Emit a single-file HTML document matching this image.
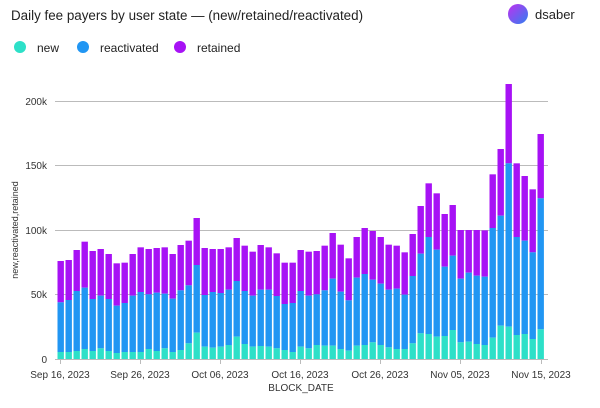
<!DOCTYPE html>
<html><head><meta charset="utf-8"><style>
body{margin:0;background:#fff;width:600px;height:403px;overflow:hidden;font-family:"Liberation Sans",sans-serif}
</style></head><body>
<svg id="s" width="600" height="403" xmlns="http://www.w3.org/2000/svg" font-family="Liberation Sans, sans-serif">
<text x="11" y="20" font-size="13.4" fill="#222">Daily fee payers by user state — (new/retained/reactivated)</text>
<defs><linearGradient id="g" x1="0" y1="0" x2="1" y2="1"><stop offset="0" stop-color="#c030f0"/><stop offset="1" stop-color="#3080f0"/></linearGradient></defs>
<circle cx="518" cy="14" r="10" fill="url(#g)"/>
<text x="535" y="19" font-size="13" fill="#222">dsaber</text>
<circle cx="20" cy="47" r="6" fill="#2de0c8"/><text x="37" y="52" font-size="12" fill="#222">new</text>
<circle cx="83" cy="47" r="6" fill="#2196f3"/><text x="100" y="52" font-size="12" fill="#222">reactivated</text>
<circle cx="180" cy="47" r="6" fill="#a712f5"/><text x="197" y="52" font-size="12" fill="#222">retained</text>
<g stroke="#bbb" stroke-width="1">
<line x1="55" x2="548" y1="294.5" y2="294.5"/><line x1="55" x2="548" y1="230.5" y2="230.5"/><line x1="55" x2="548" y1="165.5" y2="165.5"/><line x1="55" x2="548" y1="101.5" y2="101.5"/>
</g>
<g font-size="10" fill="#333" text-anchor="end">
<text x="47" y="363">0</text><text x="47" y="298">50k</text><text x="47" y="234">100k</text><text x="47" y="169">150k</text><text x="47" y="105">200k</text>
</g>
<text transform="translate(18,230) rotate(-90)" font-size="9" fill="#333" text-anchor="middle">new,reactivated,retained</text>
<g id="bars"></g>
<line x1="55" x2="548" y1="359.5" y2="359.5" stroke="#bbb"/>
<g id="ticks" stroke="#bbb"></g>
<g font-size="10" fill="#333" text-anchor="middle">
<text x="60" y="378">Sep 16, 2023</text><text x="140" y="378">Sep 26, 2023</text><text x="220" y="378">Oct 06, 2023</text><text x="300" y="378">Oct 16, 2023</text><text x="380" y="378">Oct 26, 2023</text><text x="460" y="378">Nov 05, 2023</text><text x="541" y="378">Nov 15, 2023</text>
<text x="301" y="391" font-size="10">BLOCK_DATE</text>
</g>
</svg>
<script>
var t1=[183,180,150,125,153,147,162,190,188,162,142,147,144,142,162,135,122,54,144,147,147,142,114,137,155,135,142,160,188,188];
var r1=[307,300,273,263,297,287,297,317,309,287,276,283,278,281,296,271,256,195,285,276,279,269,243,273,287,269,269,288,312,309];
var n1=[456,456,453,447,453,445,453,459,456,456,456,447,453,445,456,450,430,398,440,443,440,435,410,432,440,438,440,445,450,456];
var t2=[510,515,513,497,459,494,535,471,444,453,471,494,497,517,462,378,310,340,402,375,450,450,450,451,283,207,12,250,288,328,162];
var r2=[633,647,643,631,596,635,661,593,582,599,611,629,626,644,588,521,471,509,560,527,596,578,587,590,444,407,250,471,482,517,355];
var n2=[800,805,795,797,797,807,812,797,795,787,795,802,807,807,790,760,762,770,768,750,787,785,792,795,773,737,740,765,762,777,748];
var T=[],R=[],N=[];
for(var i=0;i<30;i++){T.push(200+t1[i]/3);R.push(200+r1[i]/3);N.push(200+n1[i]/3);}
for(var i=0;i<31;i++){T.push(80+t2[i]/3);R.push(80+r2[i]/3);N.push(80+n2[i]/3);}
var h='';
for(var i=0;i<61;i++){var x=57.5+8*i,w=6.4;
h+='<rect x="'+x+'" y="'+T[i]+'" width="'+w+'" height="'+(R[i]-T[i])+'" fill="#a712f5"/>';
h+='<rect x="'+x+'" y="'+R[i]+'" width="'+w+'" height="'+(N[i]-R[i])+'" fill="#2196f3"/>';
h+='<rect x="'+x+'" y="'+N[i]+'" width="'+w+'" height="'+(359-N[i])+'" fill="#2de0c8"/>';}
document.getElementById('bars').innerHTML=h;
var k='';[60,140,220,300,380,460,541].forEach(function(x){k+='<line x1="'+(x+.5)+'" x2="'+(x+.5)+'" y1="359" y2="364"/>';});
document.getElementById('ticks').innerHTML=k;
</script>
</body></html>
